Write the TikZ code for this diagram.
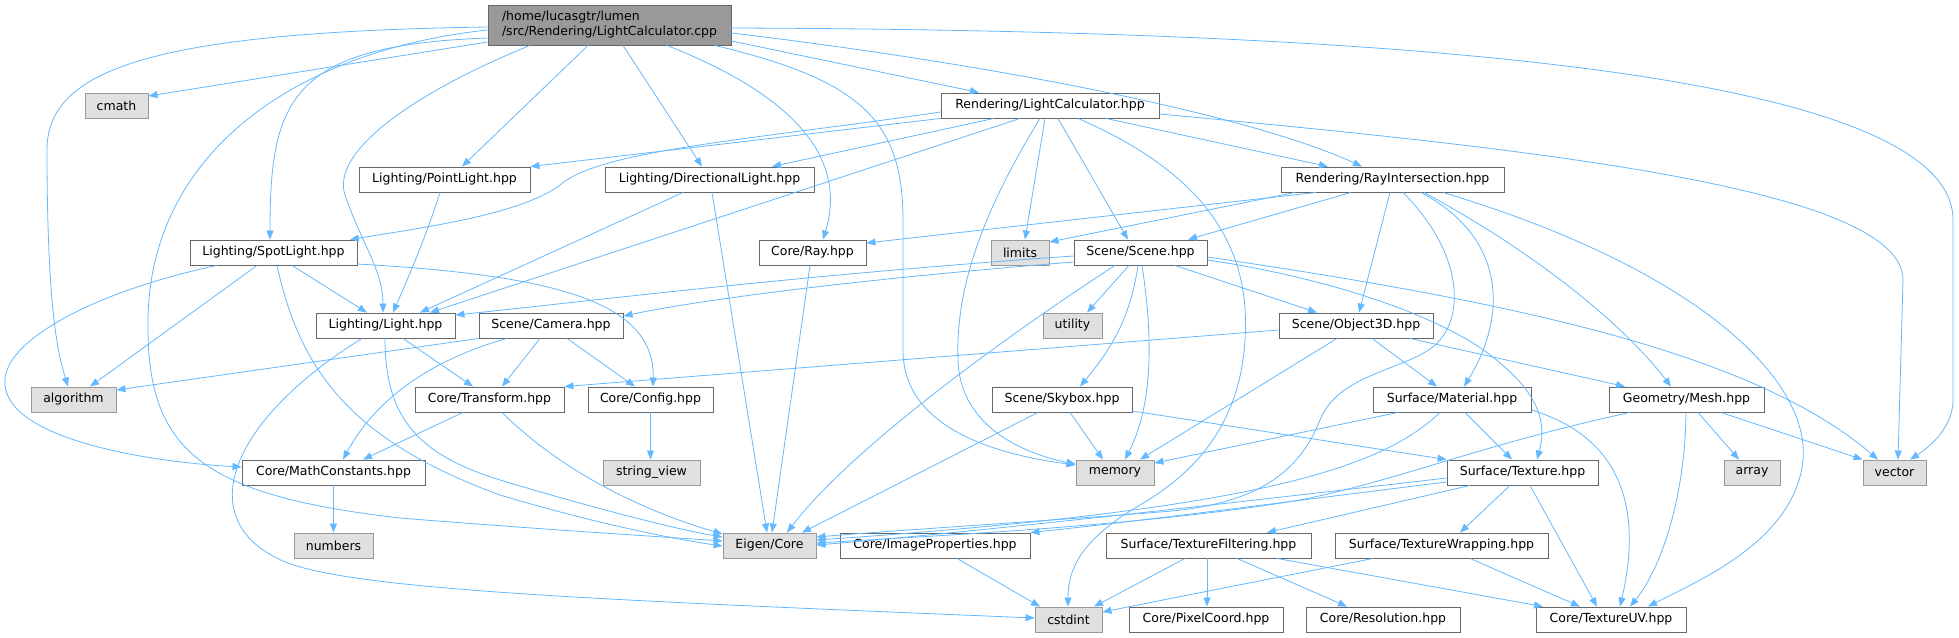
\documentclass[tikz,border=0pt]{standalone}
\usepackage{fontspec}
\setmainfont{DejaVu Sans}
\usetikzlibrary{arrows.meta}
\definecolor{edgec}{HTML}{63B8FF}
\definecolor{bordc}{HTML}{666666}
\definecolor{extfill}{HTML}{E0E0E0}
\definecolor{extbord}{HTML}{999999}
\definecolor{mainfill}{HTML}{999999}
\tikzset{
  nd/.style={draw=bordc, fill=white, line width=0.9pt, inner sep=0pt, minimum height=25pt, font=\fontsize{12.5pt}{15pt}\selectfont, text=black},
  ext/.style={nd, draw=extbord, fill=extfill},
  mainnd/.style={nd, fill=mainfill, minimum height=40pt, align=left},
  e/.style={draw=edgec, line width=0.8pt, -{Triangle[length=9pt,width=7pt]}}
}
\begin{document}
\begin{tikzpicture}[x=1pt,y=-1pt]
\useasboundingbox (0,0) rectangle (1959,637);
% nodes
\node[mainnd, minimum width=243pt] (main) at (609.5,25) {/home/lucasgtr/lumen\\/src/Rendering/LightCalculator.cpp};
\node[ext, minimum width=63pt] (cmath) at (116.5,106) {cmath};
\node[nd, minimum width=171pt] (pl) at (444.5,179.5) {Lighting/PointLight.hpp};
\node[nd, minimum width=209pt] (dl) at (709.5,179.5) {Lighting/DirectionalLight.hpp};
\node[nd, minimum width=167pt] (sl) at (273.5,252.5) {Lighting/SpotLight.hpp};
\node[nd, minimum width=107pt] (ray) at (812.5,252.5) {Core/Ray.hpp};
\node[nd, minimum width=218pt] (lch) at (1050,105.5) {Rendering/LightCalculator.hpp};
\node[nd, minimum width=223pt] (ri) at (1392.5,179.5) {Rendering/RayIntersection.hpp};
\node[ext, minimum width=58pt] (lim) at (1020,252.5) {limits};
\node[nd, minimum width=133pt] (scn) at (1140.5,252.5) {Scene/Scene.hpp};
\node[nd, minimum width=139pt] (lt) at (385.5,325.5) {Lighting/Light.hpp};
\node[nd, minimum width=144pt] (cam) at (551,325.5) {Scene/Camera.hpp};
\node[ext, minimum width=59pt] (util) at (1072.5,325.5) {utility};
\node[nd, minimum width=154pt] (obj) at (1356,325.5) {Scene/Object3D.hpp};
\node[ext, minimum width=85pt] (alg) at (73.5,399.5) {algorithm};
\node[nd, minimum width=149pt] (tr) at (489.5,399.5) {Core/Transform.hpp};
\node[nd, minimum width=125pt] (cfg) at (650.5,399.5) {Core/Config.hpp};
\node[nd, minimum width=140pt] (sky) at (1062,399.5) {Scene/Skybox.hpp};
\node[nd, minimum width=158pt] (mat) at (1452,399.5) {Surface/Material.hpp};
\node[nd, minimum width=155pt] (mesh) at (1686.5,399.5) {Geometry/Mesh.hpp};
\node[nd, minimum width=183pt] (mc) at (333.5,472.5) {Core/MathConstants.hpp};
\node[ext, minimum width=97pt] (sv) at (651.5,472.5) {string\_view};
\node[ext, minimum width=78pt] (mem) at (1115,472.5) {memory};
\node[nd, minimum width=151pt] (tex) at (1522.5,472.5) {Surface/Texture.hpp};
\node[ext, minimum width=56pt] (arr) at (1752,472.5) {array};
\node[ext, minimum width=63pt] (vec) at (1894.5,472.5) {vector};
\node[ext, minimum width=79pt] (num) at (333.5,545.5) {numbers};
\node[ext, minimum width=93pt] (eig) at (769.5,545.5) {Eigen/Core};
\node[nd, minimum width=190pt] (ip) at (935,545.5) {Core/ImageProperties.hpp};
\node[nd, minimum width=205pt] (tf) at (1208.5,545.5) {Surface/TextureFiltering.hpp};
\node[nd, minimum width=213pt] (tw) at (1441.5,545.5) {Surface/TextureWrapping.hpp};
\node[ext, minimum width=67pt] (cst) at (1068.5,619.5) {cstdint};
\node[nd, minimum width=154pt] (pc) at (1206,619.5) {Core/PixelCoord.hpp};
\node[nd, minimum width=154pt] (res) at (1383,619.5) {Core/Resolution.hpp};
\node[nd, minimum width=150pt] (uv) at (1611,619.5) {Core/TextureUV.hpp};
% main edges
\draw[e] (main.west |- 0,27) .. controls (150,32) and (47,70) .. (47,150) .. controls (47,320) and (60,360) .. (alg.north -| 68,0);
\draw[e] (main.west |- 0,42) -- (cmath.east |- 0,96);
\draw[e] (main.west |- 0,30) .. controls (300,50) and (150,150) .. (148,320) .. controls (146,450) and (200,495) .. (400,518) .. controls (550,530) and (650,536) .. (eig.west |- 0,541);
\draw[e] (main.west |- 0,38) .. controls (290,45) and (270,100) .. (sl.north -| 270,0);
\draw[e] (main.south -| 530,0) .. controls (420,90) and (330,150) .. (345,195) .. controls (360,240) and (383,270) .. (lt.north -| 383,0);
\draw[e] (main.south -| 588,0) -- (pl.north -| 462,0);
\draw[e] (main.south -| 623,0) -- (dl.north -| 702,0);
\draw[e] (main.south -| 667,0) .. controls (780,90) and (850,150) .. (ray.north -| 823,0);
\draw[e] (main.south -| 715,0) .. controls (860,80) and (903,120) .. (903,220) -- (903,350) .. controls (903,430) and (1000,455) .. (mem.west |- 0,465);
\draw[e] (main.east |- 0,41) -- (lch.north -| 979,0);
\draw[e] (main.east |- 0,33) .. controls (1000,65) and (1250,115) .. (ri.north -| 1362,0);
\draw[e] (main.east |- 0,28) .. controls (1300,30) and (1953,60) .. (1953,220) -- (1953,400) .. controls (1953,430) and (1925,450) .. (vec.north -| 1910,0);
% LightCalculator.hpp edges
\draw[e] (lch.west |- 0,112) .. controls (750,140) and (600,150) .. (560,185) .. controls (520,215) and (420,228) .. (sl.north -| 350,0);
\draw[e] (lch.south west) -- (pl.north east);
\draw[e] (lch.south -| 994,0) -- (dl.north -| 772,0);
\draw[e] (lch.south -| 1020,0) -- (lt.north -| 430,0);
\draw[e] (lch.south -| 1040,0) .. controls (990,200) and (955,280) .. (958,360) .. controls (960,430) and (1030,455) .. (mem.west |- 0,464);
\draw[e] (lch.south -| 1045,0) -- (lim.north -| 1025,0);
\draw[e] (lch.south -| 1058,0) -- (scn.north -| 1128,0);
\draw[e] (lch.south -| 1078,0) .. controls (1220,180) and (1250,260) .. (1245,340) .. controls (1240,420) and (1200,470) .. (1140,505) .. controls (1080,540) and (1068,570) .. (cst.north -| 1068,0);
\draw[e] (lch.south -| 1106,0) -- (ri.north -| 1328,0);
\draw[e] (lch.east |- 0,114) .. controls (1550,150) and (1903,190) .. (1903,280) -- (vec.north -| 1898,0);
% RayIntersection edges
\draw[e] (ri.south -| 1316,0) -- (ray.east |- 0,243);
\draw[e] (ri.south -| 1295,0) -- (lim.east |- 0,242);
\draw[e] (ri.south -| 1351,0) -- (scn.north -| 1188,0);
\draw[e] (ri.south -| 1390,0) -- (obj.north -| 1359,0);
\draw[e] (ri.south -| 1403,0) .. controls (1460,250) and (1465,310) .. (1440,340) .. controls (1415,370) and (1340,370) .. (1320,420) .. controls (1300,470) and (1260,505) .. (1160,512) .. controls (1060,520) and (900,530) .. (eig.east |- 0,537);
\draw[e] (ri.south -| 1421,0) .. controls (1510,240) and (1505,320) .. (mat.north -| 1464,0);
\draw[e] (ri.south -| 1424,0) .. controls (1530,250) and (1620,320) .. (mesh.north -| 1671,0);
\draw[e] (ri.south -| 1443,0) .. controls (1700,270) and (1810,380) .. (1803,460) .. controls (1795,540) and (1700,580) .. (uv.north -| 1648,0);
% Scene edges
\draw[e] (scn.west |- 0,256) .. controls (800,275) and (600,300) .. (lt.east |- 0,315);
\draw[e] (scn.west |- 0,262) .. controls (850,280) and (700,300) .. (cam.east |- 0,316);
\draw[e] (scn.south -| 1129,0) -- (util.north -| 1087,0);
\draw[e] (scn.south -| 1138,0) .. controls (1130,320) and (1110,350) .. (sky.north -| 1080,0);
\draw[e] (scn.south -| 1142,0) .. controls (1155,350) and (1150,410) .. (mem.north -| 1125,0);
\draw[e] (scn.south -| 1175,0) -- (obj.north -| 1317,0);
\draw[e] (scn.south -| 1115,0) .. controls (1000,340) and (850,450) .. (eig.north -| 787,0);
\draw[e] (scn.east |- 0,260) .. controls (1330,278) and (1450,318) .. (1500,363) .. controls (1545,400) and (1545,430) .. (tex.north -| 1537,0);
\draw[e] (scn.east |- 0,257) .. controls (1500,300) and (1750,350) .. (vec.north -| 1878,0);
% Object3D edges
\draw[e] (obj.west |- 0,330) -- (tr.north east);
\draw[e] (obj.south -| 1337,0) -- (mem.north -| 1140,0);
\draw[e] (obj.south -| 1372,0) -- (mat.north -| 1437,0);
\draw[e] (obj.south -| 1410,0) -- (mesh.north -| 1625,0);
% Skybox edges
\draw[e] (sky.south -| 1070,0) -- (mem.north -| 1103,0);
\draw[e] (sky.east |- 0,411) -- (tex.north west);
\draw[e] (sky.south -| 1038,0) -- (eig.north -| 802,0);
% Material edges
\draw[e] (mat.south -| 1398,0) -- (mem.east |- 0,463);
\draw[e] (mat.south -| 1465,0) -- (tex.north -| 1512,0);
\draw[e] (mat.east |- 0,410) .. controls (1630,440) and (1640,520) .. (uv.north -| 1620,0);
\draw[e] (mat.south -| 1440,0) .. controls (1380,470) and (1250,510) .. (eig.east |- 0,540);
% Mesh edges
\draw[e] (mesh.south -| 1698,0) -- (arr.north -| 1739,0);
\draw[e] (mesh.south -| 1721,0) -- (vec.north west);
\draw[e] (mesh.south -| 1686,0) .. controls (1685,500) and (1660,570) .. (uv.north -| 1630,0);
\draw[e] (mesh.south -| 1630,0) .. controls (1480,445) and (1400,480) .. (1300,500) .. controls (1150,525) and (950,535) .. (eig.east |- 0,543);
% Texture edges
\draw[e] (tex.west |- 0,478) .. controls (1300,495) and (1000,530) .. (eig.east |- 0,545);
\draw[e] (tex.west |- 0,482) .. controls (1300,500) and (1150,520) .. (ip.north east);
\draw[e] (tex.south -| 1470,0) -- (tf.north -| 1267,0);
\draw[e] (tex.south -| 1510,0) -- (tw.north -| 1460,0);
\draw[e] (tex.south -| 1530,0) -- (uv.north -| 1597,0);
% TextureFiltering / Wrapping / ImageProperties
\draw[e] (tf.south -| 1185,0) -- (cst.north -| 1094,0);
\draw[e] (tf.south -| 1207,0) -- (pc.north -| 1207,0);
\draw[e] (tf.south -| 1237,0) -- (res.north -| 1347,0);
\draw[e] (tf.south -| 1277,0) -- (uv.north -| 1543,0);
\draw[e] (tw.south -| 1373,0) -- (cst.east |- 0,612);
\draw[e] (tw.south -| 1470,0) -- (uv.north -| 1580,0);
\draw[e] (ip.south -| 957,0) -- (cst.north -| 1040,0);
% Light edges
\draw[e] (lt.south -| 403,0) -- (tr.north -| 473,0);
\draw[e] (lt.south -| 385,0) .. controls (385,420) and (420,455) .. (500,480) .. controls (600,510) and (680,530) .. (eig.west |- 0,537);
\draw[e] (lt.south -| 362,0) .. controls (230,420) and (190,520) .. (283,561) .. controls (350,590) and (600,600) .. (cst.west |- 0,618);
% PointLight, DirectionalLight, SpotLight, Ray
\draw[e] (pl.south -| 440,0) .. controls (425,240) and (405,285) .. (lt.north -| 393,0);
\draw[e] (dl.south -| 683,0) -- (lt.north -| 420,0);
\draw[e] (dl.south -| 712,0) -- (eig.north -| 767,0);
\draw[e] (sl.south -| 292,0) -- (lt.north -| 367,0);
\draw[e] (sl.south -| 257,0) -- (alg.north -| 90,0);
\draw[e] (sl.south -| 217,0) .. controls (100,290) and (0,340) .. (5,385) .. controls (10,440) and (150,462) .. (mc.west |- 0,467);
\draw[e] (sl.south -| 277,0) .. controls (300,370) and (350,440) .. (500,495) .. controls (600,525) and (680,540) .. (eig.west |- 0,546);
\draw[e] (sl.east |- 0,264) .. controls (550,275) and (655,300) .. (cfg.north -| 653,0);
\draw[e] (ray.south -| 810,0) -- (eig.north -| 772,0);
% Camera
\draw[e] (cam.south west) -- (alg.east |- 0,390);
\draw[e] (cam.south -| 540,0) -- (tr.north -| 502,0);
\draw[e] (cam.south -| 567,0) -- (cfg.north -| 635,0);
\draw[e] (cam.south -| 507,0) .. controls (430,360) and (375,400) .. (mc.north -| 343,0);
% Transform, Config, MathConstants
\draw[e] (tr.south -| 463,0) -- (mc.north -| 363,0);
\draw[e] (tr.south -| 502,0) .. controls (560,470) and (640,510) .. (eig.west |- 0,534);
\draw[e] (cfg.south) -- (cfg.south |- sv.north);
\draw[e] (mc.south) -- (num.north);
\end{tikzpicture}
\end{document}
